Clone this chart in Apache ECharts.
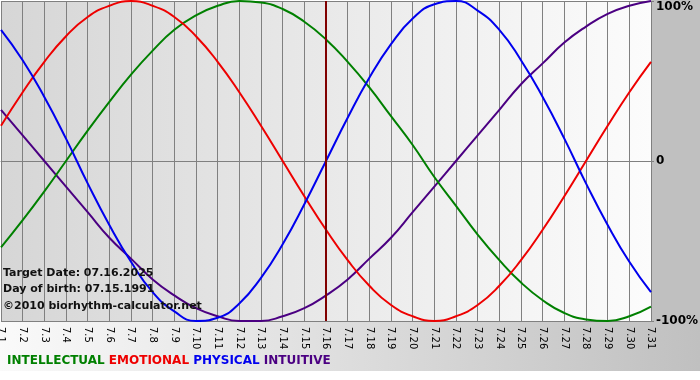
<!DOCTYPE html>
<html>
<head>
<meta charset="utf-8">
<script src="https://cdn.jsdelivr.net/npm/echarts@6/dist/echarts.min.js"></script>
<style>
html,body{margin:0;padding:0;background:#fff;}
#charts{width:700px;height:380px;}
</style>
</head>
<body>
<div id="charts"></div>
<script>
// days of july
var days = ['7.1','7.2','7.3','7.4','7.5','7.6','7.7','7.8','7.9','7.10','7.11','7.12','7.13','7.14','7.15','7.16',
            '7.17','7.18','7.19','7.20','7.21','7.22','7.23','7.24','7.25','7.26','7.27','7.28','7.29','7.30','7.31'];
var targetDay = '7.16';
var yTicks = [-100, 0, 100];

// values in %
var intellectual = [-54,-37,-19,0,19,37,54,69,82,91,97,100,99,95,87,76,62,46,28,10,-10,-28,-46,-62,-76,-87,-95,-99,-100,-97,-91];
var emotional    = [22,43,62,78,90,97,100,97,90,78,62,43,22,0,-22,-43,-62,-78,-90,-97,-100,-97,-90,-78,-62,-43,-22,0,22,43,62];
var physical     = [82,63,40,14,-14,-40,-63,-82,-94,-100,-98,-89,-73,-52,-27,0,27,52,73,89,98,100,94,82,63,40,14,-14,-40,-63,-82];
var intuitive    = [32,16,0,-16,-32,-48,-61,-74,-84,-92,-97,-100,-100,-97,-92,-84,-74,-61,-48,-32,-16,0,16,32,48,61,74,84,92,97,100];

var infoLines = ['Target Date: 07.16.2025', 'Day of birth: 07.15.1991'];
var copyright = '©2010 biorhythm-calculator.net';

var myChart = echarts.init(document.getElementById('charts'));
var font = 'Verdana, "DejaVu Sans", sans-serif';

function line(name, color, data){
    return {
        name: name,
        type: 'line',
        smooth: true,
        symbol: 'none',
        data: data,
        lineStyle: {color: color, width: 2},
        itemStyle: {color: color},
        z: 3
    };
}

var series = [
    line('INTUITIVE', '#4b0082', intuitive),
    line('INTELLECTUAL', '#008000', intellectual),
    line('EMOTIONAL', '#ee0000', emotional),
    line('PHYSICAL', '#0000ee', physical)
];
series[0].markLine = {
    silent: true,
    symbol: ['none','none'],
    label: {show: false},
    lineStyle: {color: '#800000', width: 2, type: 'solid'},
    data: [{xAxis: targetDay}]
};

var option = {
    animation: false,
    backgroundColor: '#fff',
    grid: {
        left: 1, right: 49, top: 1, bottom: 59,
        outerBoundsMode: 'none',
        containLabel: false,
        show: true,
        borderWidth: 0,
        backgroundColor: new echarts.graphic.LinearGradient(0, 0, 1, 0, [
            {offset: 0, color: '#d6d6d6'},
            {offset: 1, color: '#fcfcfc'}
        ])
    },
    graphic: [
        {type: 'rect', z: -10, silent: true, shape: {x: 0, y: 321, width: 700, height: 50},
         style: {fill: new echarts.graphic.LinearGradient(0, 0, 1, 0, [
             {offset: 0, color: '#fafafa'}, {offset: 1, color: '#c0c0c0'}])}},
        {type: 'rect', z: -10, silent: true, shape: {x: 651, y: 0, width: 49, height: 322},
         style: {fill: '#c0c0c0'}},
        {type: 'text', left: 3, top: 265, z: 10,
         style: {text: infoLines.join('\n'), font: 'bold 11px ' + font, fill: '#111', lineHeight: 16}},
        {type: 'text', left: 3, top: 301, z: 10,
         style: {text: copyright, font: 'bold 11px ' + font, fill: '#111'}},
        {type: 'text', left: 7, top: 355, z: 10,
         style: {
             text: '{g|INTELLECTUAL} {r|EMOTIONAL} {b|PHYSICAL} {p|INTUITIVE}',
             font: 'bold 12px ' + font,
             rich: {
                 g: {fill: '#008000', font: 'bold 12px ' + font},
                 r: {fill: '#ee0000', font: 'bold 12px ' + font},
                 b: {fill: '#0000ee', font: 'bold 12px ' + font},
                 p: {fill: '#4b0082', font: 'bold 12px ' + font}
             }
         }}
    ],
    xAxis: {
        type: 'category',
        boundaryGap: false,
        data: days,
        axisLine: {show: true, lineStyle: {color: '#808080', width: 1}},
        axisTick: {show: true, length: 4, interval: 0, lineStyle: {color: '#808080'}},
        splitLine: {show: true, interval: 0, lineStyle: {color: '#808080', width: 1}},
        axisLabel: {interval: 0, rotate: -90, fontSize: 10, color: '#000', fontFamily: font, margin: 6}
    },
    yAxis: {
        type: 'value',
        position: 'right',
        min: yTicks[0],
        max: yTicks[2],
        interval: 100,
        axisLine: {show: false},
        axisTick: {show: true, length: 3, lineStyle: {color: '#808080'}},
        splitLine: {show: true, lineStyle: {color: '#808080', width: 1}},
        axisLabel: {
            margin: 5,
            color: '#000',
            fontSize: 12,
            fontWeight: 'bold',
            fontFamily: font,
            verticalAlignMaxLabel: 'top',
            formatter: function(v){ return v == 0 ? '0' : v + '%'; }
        }
    },
    series: series
};
myChart.setOption(option);
</script>
</body>
</html>
